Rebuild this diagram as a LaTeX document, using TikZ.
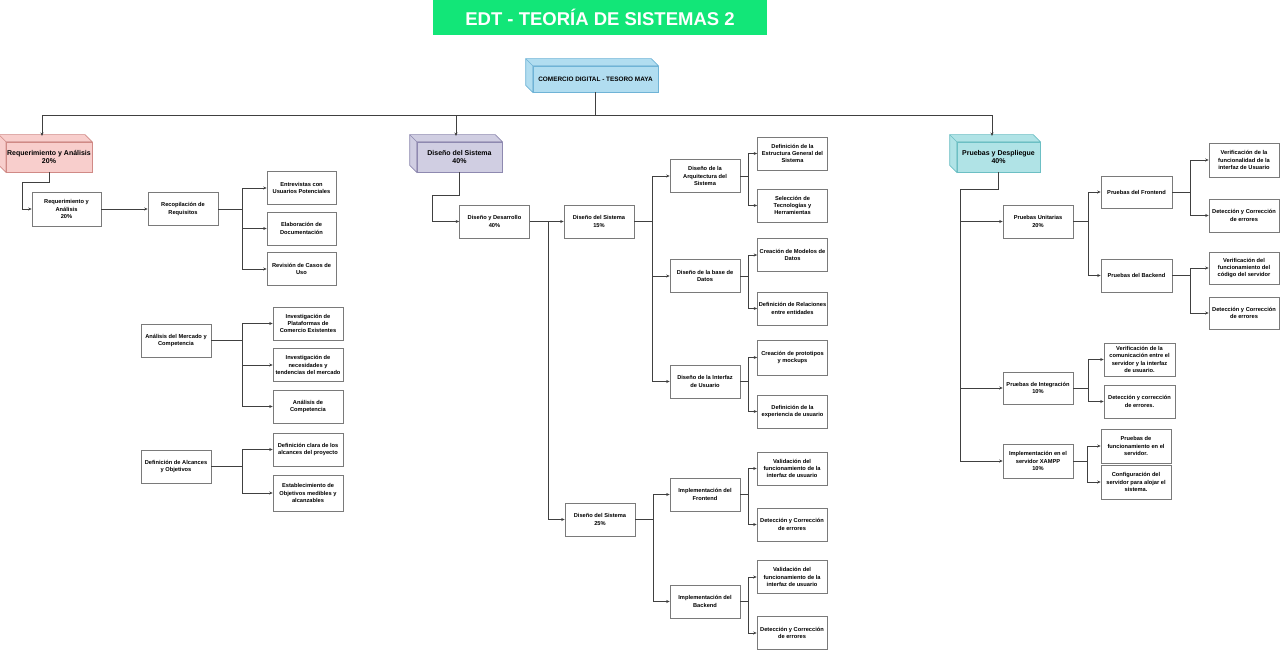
\documentclass[tikz,border=0pt]{standalone}
\usepackage{fontspec}
\setmainfont{Liberation Sans}
\usetikzlibrary{arrows.meta,calc}
\definecolor{ttl}{HTML}{12E678}
\definecolor{boxline}{HTML}{7A7A7A}
\definecolor{lineclr}{HTML}{404040}
\definecolor{rootfill}{HTML}{B1DDF0}
\definecolor{rootline}{HTML}{6FB3D6}
\definecolor{pinkfill}{HTML}{F8CECC}
\definecolor{pinkline}{HTML}{D08A86}
\definecolor{purpfill}{HTML}{D0CEE2}
\definecolor{purpline}{HTML}{8E89B0}
\definecolor{cyanfill}{HTML}{B0E3E6}
\definecolor{cyanline}{HTML}{6CBFC4}
\newcommand\mycube[3]{%
  \filldraw[fill=#2,draw=#3,line width=0.6pt] (#1.south west) -- ([shift={(-7pt,7pt)}]#1.south west) -- ([shift={(-7pt,7pt)}]#1.north west) -- ([shift={(-7pt,7pt)}]#1.north east) -- (#1.north east) -- (#1.north west) -- cycle;
  \draw[draw=#3,line width=0.6pt] (#1.north west) -- ([shift={(-7pt,7pt)}]#1.north west);}
\newcommand\br[3]{\draw[arr] (#1.east) -- ++(#3,0) |- (#2.west);}
\begin{document}
\begin{tikzpicture}[x=1pt,y=-1pt,
  box/.style={draw=boxline, line width=0.6pt, fill=white, minimum width=70pt, minimum height=33pt, inner sep=1pt, align=center, font=\fontsize{5.7}{7.3}\selectfont\bfseries},
  conn/.style={draw=lineclr, line width=0.6pt},
  arr/.style={conn, -{Stealth[length=3.5pt,width=3pt]}},
  lvl/.style={line width=0.6pt, minimum height=30pt, inner sep=1pt, align=center, font=\fontsize{7}{8.5}\selectfont\bfseries}
]
\useasboundingbox (0,0) rectangle (1280,650);
% title
\node[fill=ttl, minimum width=334pt, minimum height=35pt, inner sep=0pt, text=white, font=\fontsize{18.5}{18.5}\selectfont\bfseries] (title) at (600,17.5) {EDT - TEORÍA DE SISTEMAS 2};
% root
\node[lvl, fill=rootfill, draw=rootline, minimum width=125pt, minimum height=26pt, font=\fontsize{6.4}{7}\selectfont\bfseries] (root) at (595.5,79) {COMERCIO DIGITAL - TESORO MAYA};
\mycube{root}{rootfill}{rootline}
% level 1
\node[lvl, fill=pinkfill, draw=pinkline, minimum width=84pt] (req1) at (49,157) {Requerimiento y Análisis\\20\%};
\mycube{req1}{pinkfill}{pinkline}
\node[lvl, fill=purpfill, draw=purpline, minimum width=85pt] (dis1) at (459.5,157) {Diseño del Sistema\\40\%};
\mycube{dis1}{purpfill}{purpline}
\node[lvl, fill=cyanfill, draw=cyanline, minimum width=83pt] (pru1) at (998.5,157) {Pruebas y Despliegue\\40\%};
\mycube{pru1}{cyanfill}{cyanline}
\coordinate (reqtop) at (42,136);
\coordinate (distop) at (456,136);
\coordinate (prutop) at (992,136);
\draw[conn] (root.south) -- ++(0,23) coordinate (bus);
\draw[arr] (bus) -| (reqtop);
\draw[arr] (bus) -| (distop);
\draw[arr] (bus) -| (prutop);
% left column
\node[box, minimum width=69pt, minimum height=34pt] (req2) at (66.5,209) {Requerimiento y\\Análisis\\20\%};
\node[box] (reco) at (183,209) {Recopilación de\\Requisitos};
\node[box, minimum width=69pt] (ent) at (301.5,188) {Entrevistas con\\Usuarios Potenciales};
\node[box, minimum width=69pt] (ela) at (301.5,228.5) {Elaboración de\\Documentación};
\node[box, minimum width=69pt] (rev) at (301.5,269) {Revisión de Casos de\\Uso};
\node[box] (ana) at (176,340.5) {Análisis del Mercado y\\Competencia};
\node[box] (inv1) at (308,323.5) {Investigación de\\Plataformas de\\Comercio Existentes};
\node[box] (inv2) at (308,365) {Investigación de\\necesidades y\\tendencias del mercado};
\node[box] (anc) at (308,406.5) {Análisis de\\Competencia};
\node[box] (def) at (176,466.5) {Definición de Alcances\\y Objetivos};
\node[box] (defc) at (308,449.5) {Definición clara de los\\alcances del proyecto};
\node[box, minimum height=36pt] (est) at (308,493) {Establecimiento de\\Objetivos medibles y\\alcanzables};
\draw[arr] (req1.south) -- ++(0,10) -- ++(-27,0) |- (req2.west);
\draw[arr] (req2.east) -- (reco.west);
\br{reco}{ent}{24} \br{reco}{ela}{24} \br{reco}{rev}{24}
\br{ana}{inv1}{31} \br{ana}{inv2}{31} \br{ana}{anc}{31}
\br{def}{defc}{31} \br{def}{est}{31}
% middle column
\node[box] (dd) at (494.5,221.5) {Diseño y Desarrollo\\40\%};
\node[box] (ds15) at (599,221.5) {Diseño del Sistema\\15\%};
\node[box] (arq) at (705,176) {Diseño de la\\Arquitectura del\\Sistema};
\node[box] (estr) at (792.5,153.5) {Definición de la\\Estructura General del\\Sistema};
\node[box] (sel) at (792.5,205.5) {Selección de\\Tecnologías y\\Herramientas};
\node[box] (bd) at (705,276) {Diseño de la base de\\Datos};
\node[box] (crm) at (792.5,255) {Creación de Modelos de\\Datos};
\node[box] (rel) at (792.5,308.5) {Definición de Relaciones\\entre entidades};
\node[box] (ui) at (705,381.5) {Diseño de la Interfaz\\de Usuario};
\node[box, minimum height=35pt] (pro) at (792.5,357.5) {Creación de prototipos\\y mockups};
\node[box] (exp) at (792.5,411.5) {Definición de la\\experiencia de usuario};
\node[box] (ds25) at (600,519.5) {Diseño del Sistema\\25\%};
\node[box] (fe) at (705,494.5) {Implementación del\\Frontend};
\node[box] (val1) at (792,468.5) {Validación del\\funcionamiento de la\\interfaz de usuario};
\node[box] (det1) at (792,524.5) {Detección y Corrección\\de errores};
\node[box] (be) at (705,601.5) {Implementación del\\Backend};
\node[box] (val2) at (792,577) {Validación del\\funcionamiento de la\\interfaz de usuario};
\node[box] (det2) at (792,633) {Detección y Corrección\\de errores};
\draw[arr] (dis1.south) -- ++(0,23) -- ++(-27,0) |- (dd.west);
\br{dd}{ds15}{18.5} \br{dd}{ds25}{18.5}
\br{ds15}{arq}{18} \br{ds15}{bd}{18} \br{ds15}{ui}{18}
\br{arq}{estr}{8} \br{arq}{sel}{8}
\br{bd}{crm}{8} \br{bd}{rel}{8}
\br{ui}{pro}{8} \br{ui}{exp}{8}
\br{ds25}{fe}{18} \br{ds25}{be}{18}
\br{fe}{val1}{8} \br{fe}{det1}{8}
\br{be}{val2}{8} \br{be}{det2}{8}
% right column
\node[box] (pu) at (1038,221.5) {Pruebas Unitarias\\20\%};
\node[box, minimum width=71pt, minimum height=32pt] (pf) at (1136.5,192) {Pruebas del Frontend};
\node[box, minimum height=34pt] (ver1) at (1244,160) {Verificación de la\\funcionalidad de la\\interfaz de Usuario};
\node[box] (det3) at (1244,215.5) {Detección y Corrección\\de errores};
\node[box, minimum width=71pt] (pb) at (1136.5,275.5) {Pruebas del Backend};
\node[box, minimum height=32pt] (ver2) at (1244,268) {Verificación del\\funcionamiento del\\código del servidor};
\node[box, minimum height=32pt] (det4) at (1244,313) {Detección y Corrección\\de errores};
\node[box, minimum height=32pt] (pint) at (1038,388) {Pruebas de Integración\\10\%};
\node[box, minimum width=71pt] (com) at (1139.5,359.5) {Verificación de la\\comunicación entre el\\servidor y la interfaz\\de usuario.};
\node[box, minimum width=71pt] (det5) at (1139.5,401.5) {Detección y corrección\\de errores.};
\node[box, minimum height=34pt] (xampp) at (1038,461) {Implementación en el\\servidor XAMPP\\10\%};
\node[box, minimum height=34pt] (pfs) at (1136,446) {Pruebas de\\funcionamiento en el\\servidor.};
\node[box, minimum height=34pt] (conf) at (1136,482) {Configuración del\\servidor para alojar el\\sistema.};
\draw[conn] (pru1.south) -- ++(0,17) -- ++(-38,0) coordinate (pj);
\draw[arr] (pj) |- (pu.west);
\draw[arr] (pj) |- (pint.west);
\draw[arr] (pj) |- (xampp.west);
\br{pu}{pf}{15} \br{pu}{pb}{15}
\br{pf}{ver1}{18} \br{pf}{det3}{18}
\br{pb}{ver2}{18} \br{pb}{det4}{18}
\br{pint}{com}{15} \br{pint}{det5}{15}
\br{xampp}{pfs}{14} \br{xampp}{conf}{14}
\end{tikzpicture}
\end{document}
